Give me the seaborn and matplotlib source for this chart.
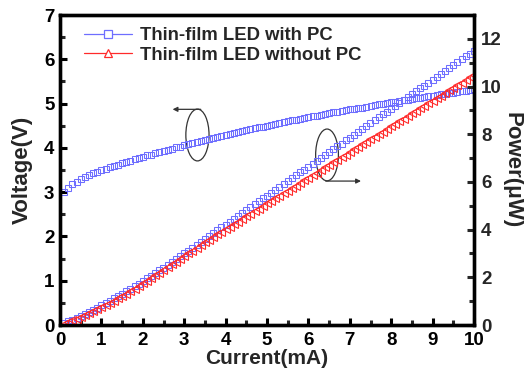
import numpy as np
import pandas as pd
import seaborn as sns
import matplotlib
matplotlib.use("Agg")
import matplotlib.pyplot as plt
from matplotlib.patches import Ellipse
from matplotlib.lines import Line2D

# ---------------- data ----------------
current = [0.1, 0.2, 0.3, 0.4, 0.5, 0.6, 0.7, 0.8, 0.9, 1.0,
           1.1, 1.2, 1.3, 1.4, 1.5, 1.6, 1.7, 1.8, 1.9, 2.0,
           2.1, 2.2, 2.3, 2.4, 2.5, 2.6, 2.7, 2.8, 2.9, 3.0,
           3.1, 3.2, 3.3, 3.4, 3.5, 3.6, 3.7, 3.8, 3.9, 4.0,
           4.1, 4.2, 4.3, 4.4, 4.5, 4.6, 4.7, 4.8, 4.9, 5.0,
           5.1, 5.2, 5.3, 5.4, 5.5, 5.6, 5.7, 5.8, 5.9, 6.0,
           6.1, 6.2, 6.3, 6.4, 6.5, 6.6, 6.7, 6.8, 6.9, 7.0,
           7.1, 7.2, 7.3, 7.4, 7.5, 7.6, 7.7, 7.8, 7.9, 8.0,
           8.1, 8.2, 8.3, 8.4, 8.5, 8.6, 8.7, 8.8, 8.9, 9.0,
           9.1, 9.2, 9.3, 9.4, 9.5, 9.6, 9.7, 9.8, 9.9, 10.0]

voltage_pc = [3.00, 3.10, 3.18, 3.24, 3.30, 3.35, 3.39, 3.43, 3.46, 3.49,
              3.52, 3.56, 3.59, 3.62, 3.65, 3.68, 3.71, 3.74, 3.77, 3.80,
              3.83, 3.85, 3.88, 3.91, 3.93, 3.96, 3.98, 4.01, 4.03, 4.06,
              4.08, 4.11, 4.13, 4.16, 4.18, 4.20, 4.22, 4.25, 4.27, 4.29,
              4.31, 4.33, 4.36, 4.38, 4.40, 4.42, 4.44, 4.46, 4.48, 4.50,
              4.52, 4.54, 4.56, 4.58, 4.60, 4.62, 4.64, 4.65, 4.67, 4.69,
              4.71, 4.73, 4.74, 4.76, 4.78, 4.80, 4.81, 4.83, 4.85, 4.87,
              4.88, 4.90, 4.91, 4.93, 4.95, 4.96, 4.98, 4.99, 5.01, 5.03,
              5.04, 5.06, 5.07, 5.09, 5.10, 5.12, 5.13, 5.15, 5.16, 5.18,
              5.19, 5.21, 5.22, 5.24, 5.25, 5.26, 5.28, 5.29, 5.31, 5.32]

power_pc = [0.08, 0.15, 0.22, 0.29, 0.37, 0.46, 0.55, 0.64, 0.73, 0.83,
            0.93, 1.02, 1.12, 1.22, 1.32, 1.42, 1.53, 1.63, 1.74, 1.85,
            1.96, 2.07, 2.18, 2.30, 2.41, 2.53, 2.64, 2.76, 2.88, 3.00,
            3.12, 3.24, 3.36, 3.49, 3.61, 3.73, 3.85, 3.97, 4.09, 4.21,
            4.34, 4.46, 4.58, 4.70, 4.82, 4.94, 5.06, 5.19, 5.31, 5.43,
            5.55, 5.67, 5.79, 5.91, 6.04, 6.16, 6.28, 6.40, 6.52, 6.64,
            6.76, 6.89, 7.01, 7.13, 7.25, 7.37, 7.49, 7.61, 7.74, 7.86,
            7.98, 8.10, 8.22, 8.34, 8.46, 8.59, 8.71, 8.83, 8.95, 9.07,
            9.19, 9.31, 9.44, 9.56, 9.68, 9.80, 9.92, 10.04, 10.16, 10.29,
            10.41, 10.53, 10.65, 10.77, 10.89, 11.01, 11.14, 11.26, 11.38, 11.50]

power_nopc = [0.06, 0.12, 0.19, 0.26, 0.33, 0.41, 0.49, 0.57, 0.66, 0.75,
              0.84, 0.93, 1.02, 1.12, 1.22, 1.32, 1.42, 1.53, 1.64, 1.75,
              1.86, 1.97, 2.08, 2.20, 2.31, 2.43, 2.54, 2.66, 2.78, 2.90,
              3.01, 3.12, 3.24, 3.35, 3.46, 3.57, 3.69, 3.80, 3.91, 4.02,
              4.13, 4.24, 4.34, 4.45, 4.56, 4.67, 4.77, 4.88, 4.99, 5.10,
              5.20, 5.31, 5.42, 5.53, 5.64, 5.74, 5.85, 5.96, 6.07, 6.17,
              6.28, 6.39, 6.50, 6.61, 6.71, 6.82, 6.93, 7.04, 7.14, 7.25,
              7.36, 7.47, 7.58, 7.68, 7.79, 7.90, 8.01, 8.11, 8.22, 8.33,
              8.44, 8.55, 8.65, 8.76, 8.87, 8.98, 9.08, 9.19, 9.30, 9.41,
              9.52, 9.62, 9.73, 9.84, 9.95, 10.05, 10.16, 10.27, 10.38, 10.48]

series_labels = ["Thin-film LED with PC", "Thin-film LED without PC"]
x_label = "Current(mA)"
y_label_left = "Voltage(V)"
y_label_right = "Power(\u03bcW)"

# ---------------- style ----------------
sns.set_style("white")
plt.rcParams["font.family"] = ["Liberation Sans", "DejaVu Sans"]
plt.rcParams["font.weight"] = "bold"

blue = "#6e6eff"
red = "#ff2a2a"

fig = plt.figure(figsize=(5.24, 3.73), dpi=100)
ax = fig.add_axes([60 / 524, 1 - 325 / 373, 414 / 524, 310 / 373])
ax2 = ax.twinx()

df = pd.DataFrame({"current": current, "voltage": voltage_pc,
                   "p_pc": power_pc, "p_nopc": power_nopc})

sns.lineplot(data=df, x="current", y="voltage", ax=ax, linestyle="none",
             marker="s", markersize=4.2, markerfacecolor="none",
             markeredgecolor=blue, markeredgewidth=0.75, color=blue,
             legend=False)
sns.lineplot(data=df, x="current", y="p_pc", ax=ax2, linestyle="none",
             marker="s", markersize=4.2, markerfacecolor="none",
             markeredgecolor=blue, markeredgewidth=0.75, color=blue,
             legend=False)
sns.lineplot(data=df, x="current", y="p_nopc", ax=ax2, linestyle="none",
             marker="<", markersize=5.2, markerfacecolor="none",
             markeredgecolor=red, markeredgewidth=0.8, color=red,
             legend=False)

ax.set_xlim(0, 10)
ax.set_ylim(0, 7)
ax2.set_ylim(0, 13)
ax.set_xticks(range(0, 11))
ax.set_xticks(np.arange(0.5, 10, 1.0), minor=True)
ax.set_yticks(range(0, 8))
ax.set_yticks(np.arange(0.5, 7, 1.0), minor=True)
ax2.set_yticks(range(0, 13, 2))
ax2.set_yticks(range(1, 13, 2), minor=True)

for a in (ax, ax2):
    for s in a.spines.values():
        s.set_linewidth(2.4)
        s.set_color("black")

ax.tick_params(axis="both", which="major", direction="in", length=5, width=2.2,
               labelsize=13.5, pad=4, top=False, right=False, bottom=True, left=True,
               colors="black")
ax.tick_params(axis="x", which="major", pad=5)
ax.tick_params(axis="both", which="minor", direction="in", length=3.5, width=2.2,
               top=False, right=False, bottom=True, left=True)
ax2.tick_params(axis="y", which="major", direction="in", length=5, width=2.2,
                labelsize=13.5, pad=5, right=True, left=False)
ax2.tick_params(axis="y", which="minor", direction="in", length=3.5, width=2.2,
                right=True, left=False)
for lab in ax.get_xticklabels() + ax.get_yticklabels() + ax2.get_yticklabels():
    lab.set_fontweight("bold")

ax.set_xlabel(x_label, fontsize=15, fontweight="bold", labelpad=0)
ax.set_ylabel(y_label_left, fontsize=16, fontweight="bold", labelpad=8)
ax2.set_ylabel(y_label_right, fontsize=16, fontweight="bold", rotation=270,
               labelpad=15)

# annotations: ellipses with arrows
ax.add_patch(Ellipse((3.32, 4.29), 0.56, 1.17, fill=False, edgecolor="#333333", lw=0.9))
ax.annotate("", xy=(2.72, 4.87), xytext=(3.40, 4.87),
            arrowprops=dict(arrowstyle="-|>", color="#333333", lw=0.9,
                            mutation_scale=7, shrinkA=0, shrinkB=0))
ax.add_patch(Ellipse((6.45, 3.84), 0.55, 1.17, fill=False, edgecolor="#333333", lw=0.9))
ax.annotate("", xy=(7.27, 3.25), xytext=(6.42, 3.25),
            arrowprops=dict(arrowstyle="-|>", color="#333333", lw=0.9,
                            mutation_scale=7, shrinkA=0, shrinkB=0))

handles = [Line2D([], [], color=blue, lw=0.9, marker="s", markersize=6,
                  markerfacecolor="white", markeredgecolor=blue, markeredgewidth=0.9),
           Line2D([], [], color=red, lw=0.9, marker="^", markersize=6,
                  markerfacecolor="white", markeredgecolor=red, markeredgewidth=0.9)]
leg = ax2.legend(handles, series_labels, loc="upper left", frameon=False,
                 fontsize=13.3, handlelength=2.6, handletextpad=0.45,
                 labelspacing=0.15, borderaxespad=0.0,
                 bbox_to_anchor=(0.04, 0.985))
for t in leg.get_texts():
    t.set_fontweight("bold")

fig.savefig("out.png", dpi=100)
